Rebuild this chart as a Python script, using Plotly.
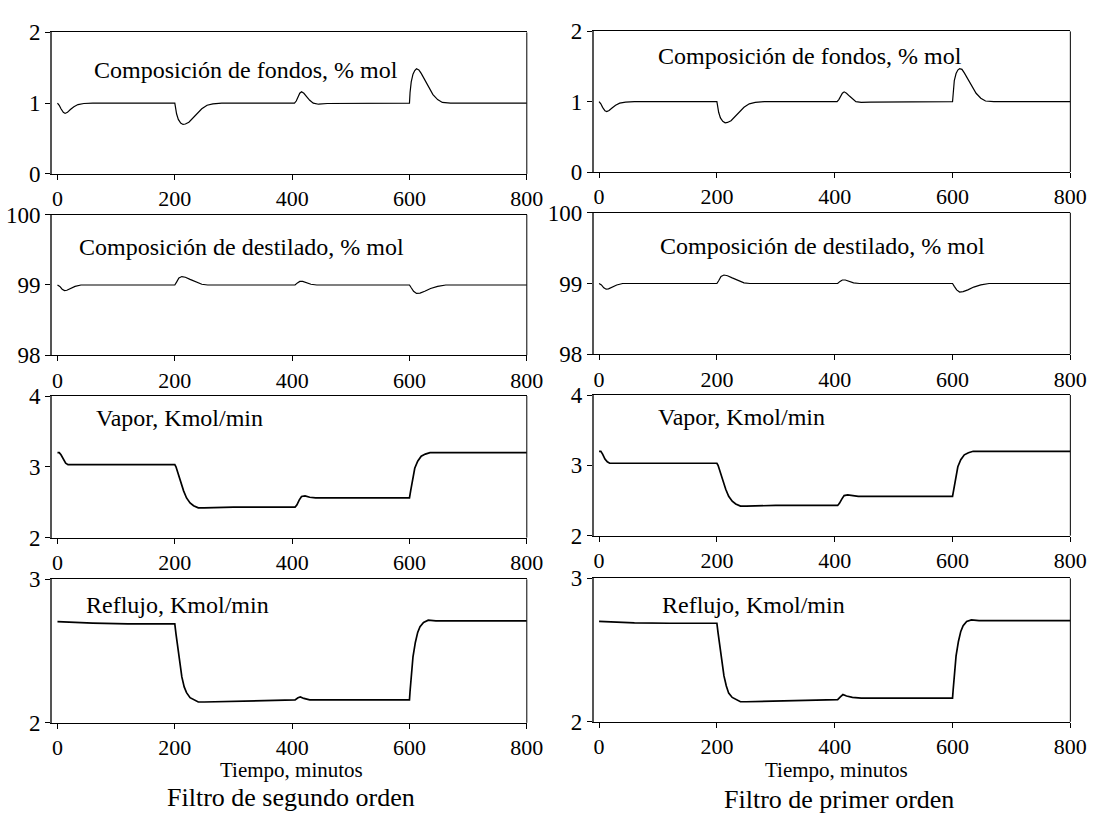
import plotly.graph_objects as go

# ---------------- data ----------------
# Left column: "Filtro de segundo orden"
t_fondos_L = [0, 3, 6, 10, 13, 17, 22, 28, 35, 45, 60, 200, 201, 203, 206, 210, 214, 218, 224, 230, 238, 246, 255, 265, 280,
              404, 407, 410, 413, 416, 420, 425, 430, 436, 445, 460, 600, 601, 603, 606, 609, 612, 616, 620, 626, 632, 640, 648, 656, 670, 800]
v_fondos_L = [1.0, 0.97, 0.92, 0.87, 0.855, 0.87, 0.91, 0.95, 0.98, 0.995, 1.0, 1.0, 0.95, 0.85, 0.77, 0.72, 0.70, 0.705, 0.73, 0.78, 0.85, 0.92, 0.97, 0.99, 1.0,
              1.0, 1.03, 1.09, 1.14, 1.16, 1.14, 1.09, 1.04, 1.0, 0.985, 0.995, 1.0, 1.15, 1.30, 1.41, 1.46, 1.485, 1.47, 1.42, 1.33, 1.23, 1.12, 1.05, 1.01, 1.0, 1.0]

t_dest_L = [0, 4, 8, 12, 16, 22, 30, 40, 200, 203, 207, 212, 218, 226, 236, 246, 256, 270, 405, 409, 413, 418, 424, 432, 442,
            600, 603, 607, 612, 618, 626, 636, 648, 662, 680, 800]
v_dest_L = [99.0, 98.98, 98.94, 98.92, 98.925, 98.95, 98.98, 99.0, 99.0, 99.04, 99.1, 99.12, 99.11, 99.08, 99.04, 99.01, 99.0, 99.0,
            99.0, 99.03, 99.05, 99.05, 99.03, 99.01, 99.0, 99.0, 98.96, 98.91, 98.88, 98.885, 98.91, 98.95, 98.98, 99.0, 99.0, 99.0]

t_vapor_L = [0, 3, 6, 10, 14, 18, 25, 200, 202, 205, 210, 215, 220, 226, 232, 240, 250, 300, 405, 408, 412, 416, 422, 430, 440,
             600, 602, 605, 609, 614, 620, 627, 635, 645, 800]
v_vapor_L = [3.2, 3.2, 3.17, 3.1, 3.05, 3.03, 3.03, 3.03, 3.0, 2.92, 2.78, 2.66, 2.56, 2.49, 2.45, 2.42, 2.42, 2.43, 2.43, 2.46, 2.53, 2.58, 2.59, 2.57, 2.56,
             2.56, 2.66, 2.82, 2.98, 3.08, 3.15, 3.18, 3.2, 3.2, 3.2]

t_reflujo_L = [0, 20, 60, 120, 200, 202, 205, 208, 212, 216, 220, 226, 232, 240, 250, 300, 380, 405, 410, 414, 420, 430, 445, 500,
               600, 601, 603, 606, 610, 614, 618, 624, 632, 645, 700, 800]
v_reflujo_L = [2.705, 2.70, 2.695, 2.69, 2.69, 2.62, 2.52, 2.42, 2.32, 2.25, 2.21, 2.175, 2.16, 2.145, 2.145, 2.15, 2.155, 2.16, 2.175, 2.18, 2.17, 2.16, 2.16, 2.16,
               2.16, 2.22, 2.34, 2.46, 2.56, 2.63, 2.67, 2.70, 2.715, 2.71, 2.71, 2.71]

# Right column: "Filtro de primer orden"
t_fondos_R = [0, 3, 6, 10, 13, 17, 22, 28, 35, 45, 60, 200, 201, 203, 206, 210, 214, 218, 224, 230, 238, 246, 255, 265, 280,
              404, 407, 410, 413, 416, 420, 425, 430, 436, 445, 460, 600, 601, 603, 606, 609, 612, 616, 620, 626, 632, 640, 648, 656, 670, 800]
v_fondos_R = [1.0, 0.97, 0.92, 0.87, 0.86, 0.875, 0.91, 0.95, 0.98, 0.995, 1.0, 1.0, 0.95, 0.85, 0.77, 0.72, 0.70, 0.705, 0.73, 0.78, 0.85, 0.92, 0.97, 0.99, 1.0,
              1.0, 1.03, 1.08, 1.12, 1.14, 1.12, 1.08, 1.04, 1.0, 0.99, 0.995, 1.0, 1.15, 1.30, 1.40, 1.45, 1.47, 1.46, 1.41, 1.32, 1.22, 1.12, 1.05, 1.01, 1.0, 1.0]

t_dest_R = [0, 4, 8, 12, 16, 22, 30, 40, 200, 203, 207, 212, 218, 226, 236, 246, 256, 270, 405, 409, 413, 418, 424, 432, 442,
            600, 603, 607, 612, 618, 626, 636, 648, 662, 680, 800]
v_dest_R = [99.0, 98.98, 98.94, 98.92, 98.925, 98.95, 98.98, 99.0, 99.0, 99.04, 99.1, 99.12, 99.11, 99.08, 99.04, 99.01, 99.0, 99.0,
            99.0, 99.03, 99.05, 99.05, 99.03, 99.01, 99.0, 99.0, 98.96, 98.91, 98.88, 98.885, 98.91, 98.95, 98.98, 99.0, 99.0, 99.0]

t_vapor_R = [0, 3, 6, 10, 14, 18, 25, 200, 202, 205, 210, 215, 220, 226, 232, 240, 250, 300, 405, 408, 412, 416, 422, 430, 440,
             600, 602, 605, 609, 614, 620, 627, 635, 645, 800]
v_vapor_R = [3.2, 3.2, 3.16, 3.09, 3.05, 3.03, 3.03, 3.03, 3.0, 2.92, 2.78, 2.66, 2.56, 2.49, 2.45, 2.42, 2.42, 2.43, 2.43, 2.46, 2.52, 2.57, 2.58, 2.57, 2.56,
             2.56, 2.66, 2.82, 2.98, 3.08, 3.15, 3.18, 3.2, 3.2, 3.2]

t_reflujo_R = [0, 20, 60, 120, 200, 202, 205, 208, 212, 216, 220, 226, 232, 240, 250, 300, 380, 405, 410, 414, 420, 430, 445, 500,
               600, 601, 603, 606, 610, 614, 618, 624, 632, 645, 700, 800]
v_reflujo_R = [2.70, 2.695, 2.69, 2.687, 2.687, 2.62, 2.52, 2.42, 2.32, 2.25, 2.20, 2.17, 2.155, 2.14, 2.14, 2.145, 2.15, 2.155, 2.175, 2.19, 2.18, 2.17, 2.165, 2.165,
               2.165, 2.22, 2.34, 2.46, 2.56, 2.63, 2.67, 2.70, 2.71, 2.705, 2.705, 2.705]

x_ticks = [0, 200, 400, 600, 800]
y_ticks = [[0, 1, 2], [98, 99, 100], [2, 3, 4], [2, 3]]
y_ranges = [[0, 2], [98, 100], [2, 4], [2, 3]]
panel_labels = ["Composición de fondos, % mol", "Composición de destilado, % mol",
                "Vapor, Kmol/min", "Reflujo, Kmol/min"]
x_title = "Tiempo, minutos"
col_titles = ["Filtro de segundo orden", "Filtro de primer orden"]

series = [
    [(t_fondos_L, v_fondos_L), (t_dest_L, v_dest_L), (t_vapor_L, v_vapor_L), (t_reflujo_L, v_reflujo_L)],
    [(t_fondos_R, v_fondos_R), (t_dest_R, v_dest_R), (t_vapor_R, v_vapor_R), (t_reflujo_R, v_reflujo_R)],
]

# ---------------- layout geometry (pixels) ----------------
W, H = 1110, 826
col_x = [(53, 535), (603, 1087)]
row_y = [
    [(21, 167), (209, 354), (396, 542), (585, 733)],
    [(20, 165), (207, 353), (395, 540), (584, 732)],
]
label_pos = [
    [(93, 60), (78, 242), (95, 419), (85, 612)],
    [(666, 45), (668, 241), (666, 418), (670, 611)],
]
xtitle_pos = [(296, 782), (850, 782)]
coltitle_pos = [(296, 810), (852, 812)]

FONT = "Liberation Serif, Times New Roman, serif"

fig = go.Figure()
layout = dict(width=W, height=H, margin=dict(l=0, r=0, t=0, b=0),
              paper_bgcolor="white", plot_bgcolor="white", showlegend=False,
              font=dict(family=FONT, color="black", size=22))
annotations = []
shapes = []

k = 0
for c in range(2):
    for r in range(4):
        k += 1
        xa = "x" if k == 1 else f"x{k}"
        ya = "y" if k == 1 else f"y{k}"
        xkey = "xaxis" if k == 1 else f"xaxis{k}"
        ykey = "yaxis" if k == 1 else f"yaxis{k}"
        t, v = series[c][r]
        lw = 1.2 if r < 2 else 1.7
        fig.add_trace(go.Scatter(x=t, y=v, mode="lines", xaxis=xa, yaxis=ya,
                                 line=dict(color="black", width=lw), hoverinfo="skip"))
        x0, x1 = col_x[c]
        y0, y1 = row_y[c][r]
        layout[xkey] = dict(domain=[x0 / W, x1 / W], anchor=ya, range=[-9, 800],
                            tickvals=x_ticks, ticks="outside", ticklen=5, tickcolor="black",
                            showline=True, linecolor="black", linewidth=1, mirror=True,
                            showgrid=False, zeroline=False,
                            tickfont=dict(family=FONT, size=22, color="black"))
        layout[ykey] = dict(domain=[1 - y1 / H, 1 - y0 / H], anchor=xa, range=y_ranges[r],
                            tickvals=y_ticks[r], ticks="outside", ticklen=5, tickcolor="black",
                            showline=True, linecolor="#555555", linewidth=2, mirror=False,
                            showgrid=False, zeroline=False,
                            tickfont=dict(family=FONT, size=23, color="black"))
        shapes.append(dict(type="line", xref=f"{xa} domain", yref=f"{ya} domain",
                           x0=1, x1=1, y0=0, y1=1, line=dict(color="black", width=1)))
        lx, ly = label_pos[c][r]
        annotations.append(dict(text=panel_labels[r], xref="paper", yref="paper",
                                x=lx / W, y=1 - ly / H, xanchor="left", yanchor="middle",
                                showarrow=False, font=dict(family=FONT, size=24, color="black")))
    tx, ty = xtitle_pos[c]
    annotations.append(dict(text=x_title, xref="paper", yref="paper", x=tx / W, y=1 - ty / H,
                            xanchor="center", yanchor="middle", showarrow=False,
                            font=dict(family=FONT, size=21, color="black")))
    fx, fy = coltitle_pos[c]
    annotations.append(dict(text=col_titles[c], xref="paper", yref="paper", x=fx / W, y=1 - fy / H,
                            xanchor="center", yanchor="middle", showarrow=False,
                            font=dict(family=FONT, size=26, color="black")))

layout["annotations"] = annotations
layout["shapes"] = shapes
fig.update_layout(**layout)
fig.write_html("out.html")
